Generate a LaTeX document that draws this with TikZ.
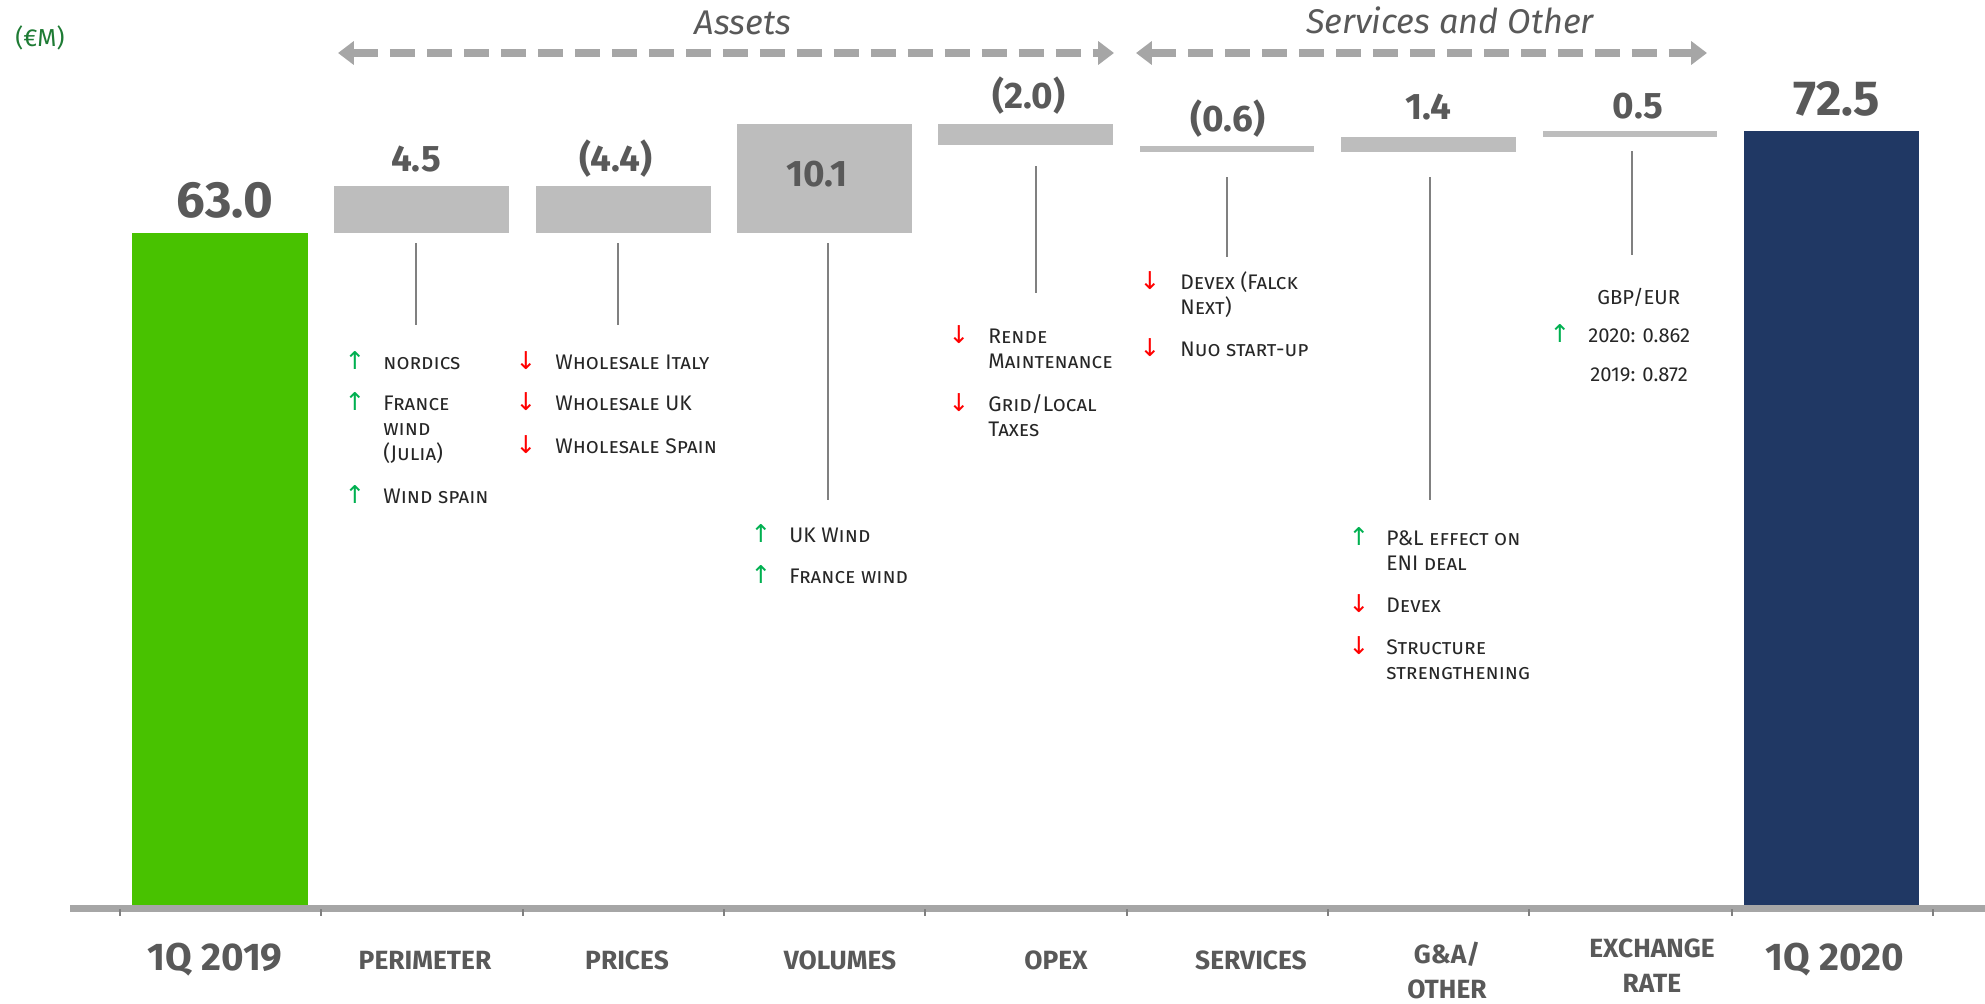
\documentclass[tikz,border=0pt]{standalone}
\usepackage{fontspec}
\setmainfont{Fira Sans}
\newfontfamily\arrowfont{DejaVu Sans}
\usetikzlibrary{arrows.meta}

\definecolor{valuegray}{HTML}{595959}
\definecolor{boxgray}{HTML}{BDBDBD}
\definecolor{startgreen}{HTML}{48C200}
\definecolor{endnavy}{HTML}{203864}
\definecolor{upgreen}{HTML}{00B050}
\definecolor{downred}{HTML}{FF0000}
\definecolor{unitgreen}{HTML}{1E7B34}
\definecolor{leadergray}{HTML}{808080}
\definecolor{axisgray}{HTML}{A6A6A6}

\tikzset{
  total/.style={anchor=base, text=valuegray, font=\fontsize{29}{34}\selectfont\bfseries},
  delta/.style={anchor=base, text=valuegray, font=\fontsize{21}{25}\selectfont\bfseries},
  category/.style={anchor=base, align=center, text=valuegray, font=\fontsize{15}{19.6}\selectfont\bfseries},
  bigcategory/.style={category, font=\fontsize{22}{24}\selectfont\bfseries},
  grouptitle/.style={anchor=base, text=valuegray, font=\fontsize{19.5}{22}\selectfont\itshape},
  groupline/.style={axisgray, line width=4pt, dash pattern=on 0.5cm off 0.24cm,
    {Triangle[length=9pt,width=13pt]}-{Triangle[length=9pt,width=13pt]}},
  leader/.style={leadergray, line width=1.1pt},
  item/.style={anchor=base west, inner sep=0pt, text=black!85,
    font=\fontsize{12}{14.3}\selectfont\scshape},
  plain/.style={item, font=\fontsize{11.5}{14.3}\selectfont},
  upmark/.style={anchor=base, inner sep=0pt, text=upgreen, font=\arrowfont\fontsize{14}{16}\selectfont},
  downmark/.style={upmark, text=downred}
}

% arrow + text of one driver (first line on the baseline)
\newcommand{\upitem}[5]{\node[upmark] (#1m) at (#2,#4) {↑};
  \node[item] (#1) at (#3,#4) {\begin{tabular}[t]{@{}l@{}}#5\end{tabular}};}
\newcommand{\downitem}[5]{\node[downmark] (#1m) at (#2,#4) {↓};
  \node[item] (#1) at (#3,#4) {\begin{tabular}[t]{@{}l@{}}#5\end{tabular}};}

\begin{document}
\begin{tikzpicture}[x=0.02cm, y=-0.02cm]
  \useasboundingbox (0,0) rectangle (1985,1004);

  % unit
  \node[anchor=base west, inner sep=0pt, text=unitgreen, font=\fontsize{14}{16}\selectfont] (unit) at (15,47) {(€M)};

  % group arrows
  \coordinate (assetsL) at (338,53);
  \coordinate (assetsR) at (1114,53);
  \coordinate (otherL) at (1136,53);
  \coordinate (otherR) at (1707,53);
  \draw[groupline] (assetsL) -- (assetsR);
  \draw[groupline] (otherL) -- (otherR);
  \node[grouptitle] (assets) at (743,34) {Assets};
  \node[grouptitle] (other) at (1450,33) {Services and Other};

  % bars
  \fill[startgreen] (132,233) rectangle (308,908);
  \fill[boxgray] (334,186) rectangle (509,233);
  \fill[boxgray] (536,186) rectangle (711,233);
  \fill[boxgray] (737,124) rectangle (912,233);
  \fill[boxgray] (938,124) rectangle (1113,145);
  \fill[boxgray] (1140,146) rectangle (1314,152);
  \fill[boxgray] (1341,137) rectangle (1516,152);
  \fill[boxgray] (1543,131) rectangle (1717,137);
  \fill[endnavy] (1744,131) rectangle (1919,908);

  % values
  \node[total] (v19) at (225,217) {63.0};
  \node[delta] (vperim) at (416,171) {4.5};
  \node[delta] (vprices) at (616,171) {(4.4)};
  \node[delta] (vvolumes) at (817,186) {10.1};
  \node[delta] (vopex) at (1029,108) {(2.0)};
  \node[delta] (vservices) at (1228,131) {(0.6)};
  \node[delta] (vgna) at (1428,119) {1.4};
  \node[delta] (vexch) at (1638,118) {0.5};
  \node[total, font=\fontsize{28}{32}\selectfont\bfseries] (v20) at (1837,115) {72.5};

  % axis
  \fill[axisgray] (70,905) rectangle (1985,912);
  \foreach \t in {120,321,523,724,925,1127,1328,1529,1732,1933}
    \draw[leadergray, line width=0.6pt] (\t,909) -- (\t,916);

  % categories
  \node[bigcategory] (c19) at (215,970) {1Q 2019};
  \node[category] (cperim) at (425,969) {PERIMETER};
  \node[category] (cprices) at (627,969) {PRICES};
  \node[category] (cvolumes) at (840,969) {VOLUMES};
  \node[category] (copex) at (1056,969) {OPEX};
  \node[category] (cservices) at (1251,969) {SERVICES};
  \node[category] (cgna) at (1447,998) {G\&A/\\OTHER};
  \node[category] (cexch) at (1652,992) {EXCHANGE\\RATE};
  \node[bigcategory] (c20) at (1835,970) {1Q 2020};

  % leader lines
  \coordinate (perimT) at (416,243);    \coordinate (perimB) at (416,325);
  \coordinate (pricesT) at (618,243);   \coordinate (pricesB) at (618,325);
  \coordinate (volumesT) at (828,243);  \coordinate (volumesB) at (828,500);
  \coordinate (opexT) at (1036,166);    \coordinate (opexB) at (1036,293);
  \coordinate (servicesT) at (1227,177); \coordinate (servicesB) at (1227,257);
  \coordinate (gnaT) at (1430,177);     \coordinate (gnaB) at (1430,500);
  \coordinate (exchT) at (1632,151);    \coordinate (exchB) at (1632,255);
  \foreach \l in {perim,prices,volumes,opex,services,gna,exch}
    \draw[leader] (\l T) -- (\l B);

  % drivers
  \upitem{perim1}{355}{383}{369}{nordics}
  \upitem{perim2}{355}{383}{410}{France\\wind\\(Julia)}
  \upitem{perim3}{355}{383}{503}{Wind spain}

  \downitem{prices1}{526}{555}{369}{Wholesale Italy}
  \downitem{prices2}{526}{555}{410}{Wholesale UK}
  \downitem{prices3}{526}{555}{453}{Wholesale Spain}

  \upitem{volumes1}{761}{789}{542}{UK Wind}
  \upitem{volumes2}{761}{789}{583}{France wind}

  \downitem{opex1}{959}{988}{343}{Rende\\Maintenance}
  \downitem{opex2}{959}{988}{411}{Grid/Local\\Taxes}

  \downitem{services1}{1150}{1180}{289}{Devex (Falck\\Next)}
  \downitem{services2}{1150}{1180}{356}{Nuo start-up}

  \upitem{gna1}{1359}{1386}{545}{P\&L effect on\\ENI deal}
  \downitem{gna2}{1359}{1386}{612}{Devex}
  \downitem{gna3}{1359}{1386}{654}{Structure\\strengthening}

  \node[plain] (exch0) at (1597,304) {GBP/EUR};
  \node[upmark] (exch1m) at (1560,342) {↑};
  \node[plain] (exch1) at (1588,342) {2020: 0.862};
  \node[plain] (exch2) at (1590,381) {2019: 0.872};
\end{tikzpicture}
\end{document}
